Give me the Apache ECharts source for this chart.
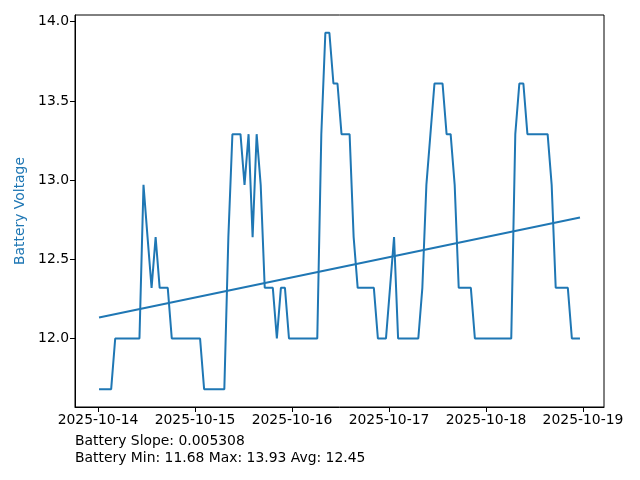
<!DOCTYPE html>
<html>
<head>
<meta charset="utf-8">
<script src="https://cdn.jsdelivr.net/npm/echarts@6/dist/echarts.min.js"></script>
<style>html,body{margin:0;padding:0;background:#fff;}#c{width:640px;height:480px;}</style>
</head>
<body>
<div id="c"></div>
<script>
// Sample times (UTC), hourly readings
const times14 = ["2025-10-14T00:15","2025-10-14T01:15","2025-10-14T02:15","2025-10-14T03:15","2025-10-14T04:15","2025-10-14T05:15","2025-10-14T06:15","2025-10-14T07:15","2025-10-14T08:15","2025-10-14T09:15","2025-10-14T10:15","2025-10-14T11:15","2025-10-14T12:15","2025-10-14T13:15","2025-10-14T14:15","2025-10-14T15:15","2025-10-14T16:15","2025-10-14T17:15","2025-10-14T18:15","2025-10-14T19:15","2025-10-14T20:15","2025-10-14T21:15","2025-10-14T22:15","2025-10-14T23:15"];
const times15 = ["2025-10-15T00:15","2025-10-15T01:15","2025-10-15T02:15","2025-10-15T03:15","2025-10-15T04:15","2025-10-15T05:15","2025-10-15T06:15","2025-10-15T07:15","2025-10-15T08:15","2025-10-15T09:15","2025-10-15T10:15","2025-10-15T11:15","2025-10-15T12:15","2025-10-15T13:15","2025-10-15T14:15","2025-10-15T15:15","2025-10-15T16:15","2025-10-15T17:15","2025-10-15T18:15","2025-10-15T19:15","2025-10-15T20:15","2025-10-15T21:15","2025-10-15T22:15","2025-10-15T23:15"];
const times16 = ["2025-10-16T00:15","2025-10-16T01:15","2025-10-16T02:15","2025-10-16T03:15","2025-10-16T04:15","2025-10-16T05:15","2025-10-16T06:15","2025-10-16T07:15","2025-10-16T08:15","2025-10-16T09:15","2025-10-16T10:15","2025-10-16T11:15","2025-10-16T12:15","2025-10-16T13:15","2025-10-16T14:15","2025-10-16T15:15","2025-10-16T16:15","2025-10-16T17:15","2025-10-16T18:15","2025-10-16T19:15","2025-10-16T20:15","2025-10-16T21:15","2025-10-16T22:15","2025-10-16T23:15"];
const times17 = ["2025-10-17T00:15","2025-10-17T01:15","2025-10-17T02:15","2025-10-17T03:15","2025-10-17T04:15","2025-10-17T05:15","2025-10-17T06:15","2025-10-17T07:15","2025-10-17T08:15","2025-10-17T09:15","2025-10-17T10:15","2025-10-17T11:15","2025-10-17T12:15","2025-10-17T13:15","2025-10-17T14:15","2025-10-17T15:15","2025-10-17T16:15","2025-10-17T17:15","2025-10-17T18:15","2025-10-17T19:15","2025-10-17T20:15","2025-10-17T21:15","2025-10-17T22:15","2025-10-17T23:15"];
const times18 = ["2025-10-18T00:15","2025-10-18T01:15","2025-10-18T02:15","2025-10-18T03:15","2025-10-18T04:15","2025-10-18T05:15","2025-10-18T06:15","2025-10-18T07:15","2025-10-18T08:15","2025-10-18T09:15","2025-10-18T10:15","2025-10-18T11:15","2025-10-18T12:15","2025-10-18T13:15","2025-10-18T14:15","2025-10-18T15:15","2025-10-18T16:15","2025-10-18T17:15","2025-10-18T18:15","2025-10-18T19:15","2025-10-18T20:15","2025-10-18T21:15","2025-10-18T22:15","2025-10-18T23:15"];

// Battery voltage per day
const volts14 = [11.68,11.68,11.68,11.68,12.00,12.00,12.00,12.00,12.00,12.00,12.00,12.97,12.64,12.32,12.64,12.32,12.32,12.32,12.00,12.00,12.00,12.00,12.00,12.00];
const volts15 = [12.00,12.00,11.68,11.68,11.68,11.68,11.68,11.68,12.64,13.29,13.29,13.29,12.97,13.29,12.64,13.29,12.97,12.32,12.32,12.32,12.00,12.32,12.32,12.00];
const volts16 = [12.00,12.00,12.00,12.00,12.00,12.00,12.00,13.29,13.93,13.93,13.61,13.61,13.29,13.29,13.29,12.64,12.32,12.32,12.32,12.32,12.32,12.00,12.00,12.00];
const volts17 = [12.32,12.64,12.00,12.00,12.00,12.00,12.00,12.00,12.32,12.97,13.29,13.61,13.61,13.61,13.29,13.29,12.97,12.32,12.32,12.32,12.32,12.00,12.00,12.00];
const volts18 = [12.00,12.00,12.00,12.00,12.00,12.00,12.00,13.29,13.61,13.61,13.29,13.29,13.29,13.29,13.29,13.29,12.97,12.32,12.32,12.32,12.32,12.00,12.00,12.00];

// Fitted trend line end values
const trendEnds = [12.132, 12.764];
const slopeText = "0.005308";

// Tick labels
const xTickLabels = ["2025-10-14","2025-10-15","2025-10-16","2025-10-17","2025-10-18","2025-10-19"];
const yTickLabels = [12.0, 12.5, 13.0, 13.5, 14.0];

const times = [].concat(times14, times15, times16, times17, times18).map(s => Date.parse(s + ":00Z"));
const volts = [].concat(volts14, volts15, volts16, volts17, volts18);
const data = times.map((t, i) => [t, volts[i]]);
const t0 = times[0], t1 = times[times.length - 1];
const trendData = [[t0, trendEnds[0]], [t1, trendEnds[1]]];

const vMin = Math.min.apply(null, volts), vMax = Math.max.apply(null, volts);
const vAvg = volts.reduce((a, b) => a + b, 0) / volts.length;
const xSpan = t1 - t0, ySpan = vMax - vMin;
const xTickVals = xTickLabels.map(s => Date.parse(s + "T00:00:00Z"));

function fmtDate(v) {
  const d = new Date(v);
  const p = n => (n < 10 ? "0" : "") + n;
  return d.getUTCFullYear() + "-" + p(d.getUTCMonth() + 1) + "-" + p(d.getUTCDate());
}

const FONT = "DejaVu Sans";
const chart = echarts.init(document.getElementById("c"), null, { renderer: "canvas" });
chart.setOption({
  animation: false,
  backgroundColor: "#fff",
  grid: { left: 75, top: 15, width: 529, height: 392, show: true, borderColor: "#000", borderWidth: 1, backgroundColor: "transparent" },
  xAxis: {
    type: "value",
    min: t0 - 0.05 * xSpan,
    max: t1 + 0.05 * xSpan,
    axisLine: { show: true, onZero: false, lineStyle: { color: "#000", width: 1 } },
    axisTick: { show: true, customValues: xTickVals, length: 5, lineStyle: { color: "#000" } },
    axisLabel: { customValues: xTickVals, formatter: fmtDate, color: "#000", fontFamily: FONT, fontSize: 13.9, margin: 6 },
    splitLine: { show: false }
  },
  yAxis: {
    type: "value",
    min: vMin - 0.05 * ySpan,
    max: vMax + 0.05 * ySpan,
    name: "Battery Voltage",
    nameLocation: "middle",
    nameGap: 46,
    nameTextStyle: { color: "#1f77b4", fontFamily: FONT, fontSize: 13.9 },
    axisLine: { show: true, lineStyle: { color: "#000", width: 1 } },
    axisTick: { show: true, customValues: yTickLabels, length: 5, lineStyle: { color: "#000" } },
    axisLabel: { customValues: yTickLabels, formatter: v => v.toFixed(1), color: "#000", fontFamily: FONT, fontSize: 13.9, margin: 6 },
    splitLine: { show: false }
  },
  series: [
    { type: "line", data: data, showSymbol: false, lineStyle: { color: "#1f77b4", width: 2 }, itemStyle: { color: "#1f77b4" } },
    { type: "line", data: trendData, showSymbol: false, lineStyle: { color: "#1f77b4", width: 2 }, itemStyle: { color: "#1f77b4" } }
  ],
  graphic: [
    { type: "text", left: 75, top: 433, style: { text: "Battery Slope: " + slopeText + "\nBattery Min: " + vMin.toFixed(2) + " Max: " + vMax.toFixed(2) + " Avg: " + vAvg.toFixed(2), fill: "#000", font: "13.9px 'DejaVu Sans'", lineHeight: 16.7 } }
  ]
});
</script>
</body>
</html>
